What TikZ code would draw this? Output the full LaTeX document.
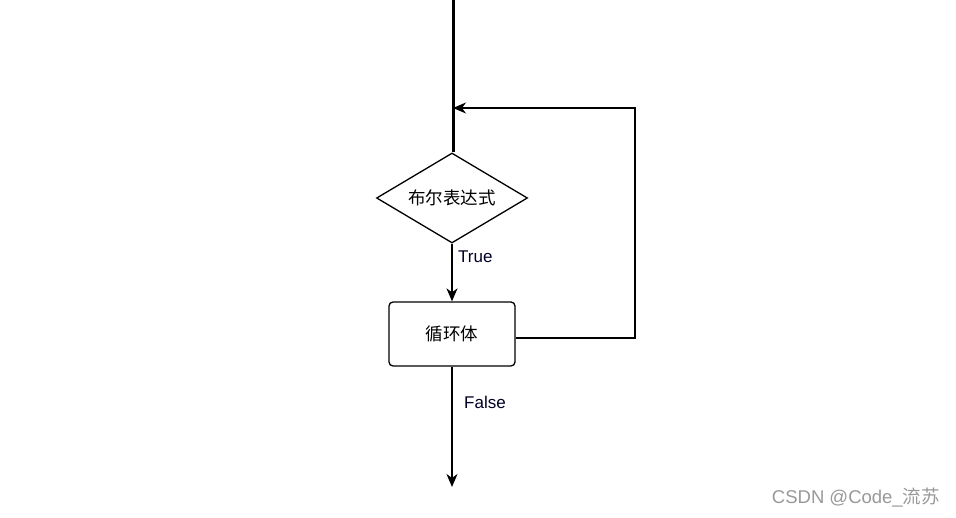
\documentclass[tikz,border=0pt]{standalone}
\usepackage{fontspec}
\setmainfont{Liberation Sans}
\newfontfamily\cjk{Noto Sans CJK SC}
\usetikzlibrary{shapes.geometric,arrows.meta}
\begin{document}
\begin{tikzpicture}[x=1pt,y=-1pt,
  line/.style={draw=black,line width=1.3pt},
  arr/.style={line,-{Stealth[length=13pt,width=11pt,inset=4pt]}},
  lbl/.style={font=\fontsize{17}{19}\selectfont,text=black!85!blue,inner sep=0pt},
  cjklbl/.style={font=\cjk\fontsize{17.5}{20}\selectfont,inner sep=0pt},
]
\useasboundingbox[fill=white] (0,0) rectangle (956,518);
\node[draw,line width=1.3pt,diamond,minimum width=151pt,minimum height=90pt,inner sep=0pt,aspect=1.68] (cond) at (452,198) {};
\node[cjklbl] at (cond.center) {布尔表达式};
\node[draw,line width=1.3pt,rounded corners=4pt,minimum width=126pt,minimum height=64pt,inner sep=0pt] (body) at (452,334) {};
\node[cjklbl] at (body.center) {循环体};
\coordinate (top) at (453,0);
\coordinate (join) at (453,108);
\coordinate (rt) at (635,108);
\coordinate (rb) at (635,338);
\coordinate (end) at (452,487);
\draw[line width=3pt] (top) -- (cond.north -| top);
\draw[arr] (cond.south) -- (body.north);
\draw[line] (body.east |- rb) -- (rb) -- (rt) -- (525,108);
\draw[arr] (525,108) -- (join);
\draw[arr] (body.south) -- (end);
\node[lbl,anchor=west] (t) at (458,257) {True};
\node[lbl,anchor=west] (f) at (464,402) {False};
\node[font=\fontsize{18.5}{20}\selectfont,text=black!40,anchor=east,inner sep=0pt] (wm) at (940,498) {CSDN @Code\_{\cjk 流苏}};
\end{tikzpicture}
\end{document}
